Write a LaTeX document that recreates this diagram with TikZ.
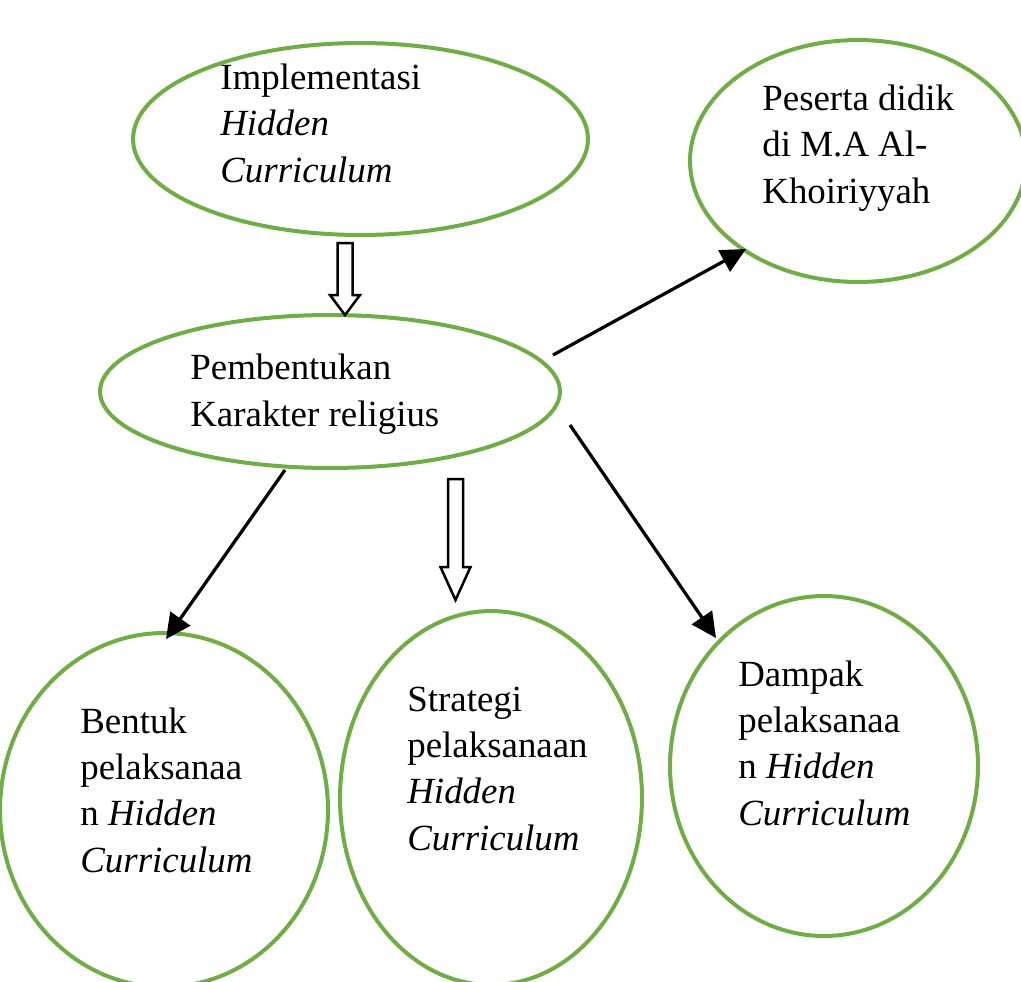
\documentclass[tikz,border=0pt]{standalone}
\usepackage{fontspec}
\setmainfont{Liberation Serif}
\usetikzlibrary{shapes.geometric,arrows.meta}
\definecolor{og}{HTML}{70AD47}
\begin{document}
\begin{tikzpicture}[x=0.02cm,y=-0.02cm,
  oval/.style={ellipse,draw=og,line width=0.08cm,inner sep=0pt},
  lbl/.style={anchor=base west,align=left,inner sep=0pt,font=\fontsize{21}{26.2}\selectfont},
  conn/.style={line width=0.065cm,-{Triangle[length=0.5cm,width=0.48cm]}},
  hollow/.style={draw=black,line width=0.05cm,line join=miter,fill=white}]
\useasboundingbox (0,0) rectangle (1021,981);
\clip (0,0) rectangle (1021,981);
% ellipses
\node[oval,minimum width=9.1cm,minimum height=3.84cm] (impl) at (360.5,139) {};
\node[oval,minimum width=6.72cm,minimum height=4.84cm] (pes) at (858,161) {};
\node[oval,minimum width=9.2cm,minimum height=3.06cm] (pemb) at (330,391.5) {};
\node[oval,minimum width=6.56cm,minimum height=7.08cm] (bent) at (164,810) {};
\node[oval,minimum width=6.04cm,minimum height=7.48cm] (strat) at (491,798) {};
\node[oval,minimum width=6.16cm,minimum height=6.8cm] (damp) at (824,766) {};
% texts (anchored at the baseline of the last line)
\node[lbl] (timpl) at (220,182) {Implementasi\\\textit{Hidden}\\\textit{Curriculum}};
\node[lbl] (tpes) at (762,203) {Peserta didik\\di M.A Al-\\Khoiriyyah};
\node[lbl] (tpemb) at (190,426) {Pembentukan\\Karakter religius};
\node[lbl] (tbent) at (80,872) {Bentuk\\pelaksanaa\\n \textit{Hidden}\\\textit{Curriculum}};
\node[lbl] (tstrat) at (407,850) {Strategi\\pelaksanaan\\\textit{Hidden}\\\textit{Curriculum}};
\node[lbl] (tdamp) at (738,825) {Dampak\\pelaksanaa\\n \textit{Hidden}\\\textit{Curriculum}};
% connector end points
\coordinate (a1s) at (553,355);
\coordinate (a1e) at (746,249);
\coordinate (a2s) at (285,470);
\coordinate (a2e) at (166,639);
\coordinate (a3s) at (570,425);
\coordinate (a3e) at (716,638);
\draw[conn] (a1s) -- (a1e);
\draw[conn] (a2s) -- (a2e);
\draw[conn] (a3s) -- (a3e);
% hollow arrows
\coordinate (h1) at (345,243);
\draw[hollow] (h1) ++(-7.5,0) -- ++(15,0) -- ++(0,52) -- ++(7.5,0) -- ++(-15,20) -- ++(-15,-20) -- ++(7.5,0) -- cycle;
\coordinate (h2) at (455.5,479);
\draw[hollow] (h2) ++(-7.5,0) -- ++(15,0) -- ++(0,88) -- ++(7.5,0) -- ++(-15,33) -- ++(-15,-33) -- ++(7.5,0) -- cycle;
\end{tikzpicture}
\end{document}
